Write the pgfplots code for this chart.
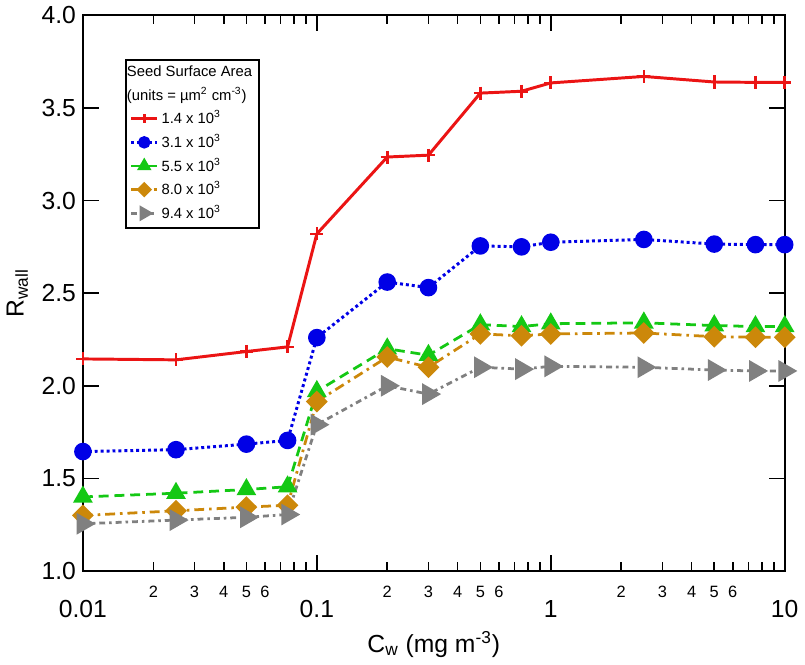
\documentclass[border=0pt]{standalone}
\usepackage{pgfplots}
\pgfplotsset{compat=1.18}
\usepackage{fontspec}
\setmainfont{Liberation Sans}
\definecolor{cred}{RGB}{235,20,20}
\definecolor{cblue}{RGB}{0,0,230}
\definecolor{cgreen}{RGB}{20,200,20}
\definecolor{corange}{RGB}{204,136,10}
\definecolor{cgray}{RGB}{128,128,128}
\begin{document}
\begin{tikzpicture}
\begin{axis}[
  xmode=log,
  scale only axis,
  width=355.5pt, height=281.5pt,
  xmin=0.01, xmax=10,
  ymin=1, ymax=4,
  ytick={1,1.5,...,4},
  xtick={0.01,0.1,1,10},
  xticklabels={0.01,0.1,1,10},
  extra x ticks={0.02,0.03,0.04,0.05,0.06,0.2,0.3,0.4,0.5,0.6,2,3,4,5,6},
  extra x tick labels={2,3,4,5,6,2,3,4,5,6,2,3,4,5,6},
  extra x tick style={major tick length=4.5pt,
    xticklabel style={yshift=7.5pt, font=\fontsize{8.3}{10}\selectfont}},
  tick align=inside,
  major tick length=8pt, minor tick length=4.5pt,
  every tick/.style={black, line width=0.8pt},
  axis line style={line width=1pt},
  font=\fontsize{12.5}{15}\selectfont,
  xticklabel style={yshift=-11.5pt},
  yticklabel style={/pgf/number format/.cd, fixed, fixed zerofill, precision=1},
  /pgf/number format/assume math mode=true,
  xlabel={C\textsubscript{w} (mg m\textsuperscript{-3})},
  ylabel={R\textsubscript{wall}},
  legend cell align=left,
  legend style={at={(0.06,0.922)}, anchor=north west, draw=black, line width=1pt,
    font=\fontsize{7.5}{8.5}\selectfont, inner xsep=2pt, inner ysep=1.2pt,
    nodes={inner xsep=1.5pt, inner ysep=1.9pt}},
  legend image code/.code={\draw[mark repeat=2,mark phase=2,
    every mark/.append style={scale=0.65}]
    plot coordinates {(0pt,0pt)(6.5pt,0pt)(13pt,0pt)};},
]
\addlegendimage{empty legend}
\addlegendentry{\hspace{-17.5pt}Seed Surface Area}
\addlegendimage{empty legend}
\addlegendentry{\hspace{-17.5pt}(units = µm\textsuperscript{2} cm\textsuperscript{-3})}

% 1.4 x 10^3
\addplot[cred, line width=1.5pt, mark=+, mark size=3.3pt, mark options={solid, line width=1.3pt}] coordinates {
  (0.01,2.145)(0.025,2.14)(0.05,2.185)(0.075,2.21)(0.1,2.82)(0.2,3.235)(0.3,3.245)
  (0.5,3.58)(0.75,3.59)(1,3.635)(2.5,3.67)(5,3.64)(7.5,3.638)(10,3.638)};
\addlegendentry{1.4 x 10\textsuperscript{3}}
% 3.1 x 10^3
\addplot[cblue, line width=1.5pt, dash pattern=on 1.5pt off 1.5pt, mark=*, mark size=3.7pt, mark options={solid}] coordinates {
  (0.01,1.645)(0.025,1.655)(0.05,1.685)(0.075,1.705)(0.1,2.26)(0.2,2.56)(0.3,2.53)
  (0.5,2.755)(0.75,2.75)(1,2.775)(2.5,2.79)(5,2.765)(7.5,2.762)(10,2.762)};
\addlegendentry{3.1 x 10\textsuperscript{3}}
% 5.5 x 10^3
\addplot[cgreen, line width=1.4pt, dash pattern=on 5pt off 3pt, mark=triangle*, mark size=4.4pt, mark options={solid}] coordinates {
  (0.01,1.40)(0.025,1.42)(0.05,1.44)(0.075,1.455)(0.1,1.97)(0.2,2.20)(0.3,2.165)
  (0.5,2.33)(0.75,2.32)(1,2.335)(2.5,2.34)(5,2.325)(7.5,2.32)(10,2.32)};
\addlegendentry{5.5 x 10\textsuperscript{3}}
% 8.0 x 10^3
\addplot[corange, line width=1.4pt, dash pattern=on 5pt off 2.5pt on 1.3pt off 2.5pt, mark=square*, mark size=3.2pt, mark options={solid, rotate=45}] coordinates {
  (0.01,1.30)(0.025,1.325)(0.05,1.345)(0.075,1.355)(0.1,1.915)(0.2,2.155)(0.3,2.10)
  (0.5,2.28)(0.75,2.27)(1,2.28)(2.5,2.285)(5,2.265)(7.5,2.262)(10,2.262)};
\addlegendentry{8.0 x 10\textsuperscript{3}}
% 9.4 x 10^3
\addplot[cgray, line width=1.4pt, dash pattern=on 3pt off 2pt on 1.3pt off 2pt, mark=triangle*, mark size=5pt, mark options={solid, rotate=-90}] coordinates {
  (0.01,1.255)(0.025,1.275)(0.05,1.29)(0.075,1.305)(0.1,1.79)(0.2,2.00)(0.3,1.955)
  (0.5,2.10)(0.75,2.09)(1,2.105)(2.5,2.10)(5,2.085)(7.5,2.08)(10,2.08)};
\addlegendentry{9.4 x 10\textsuperscript{3}}
\end{axis}
\end{tikzpicture}
\end{document}
